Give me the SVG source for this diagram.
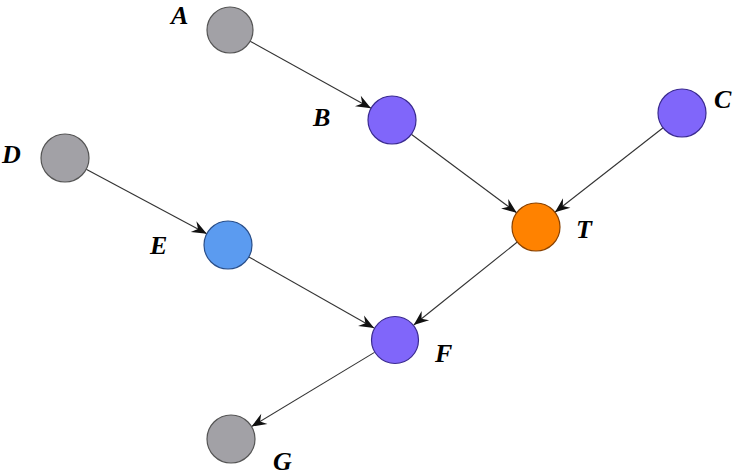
<svg xmlns="http://www.w3.org/2000/svg" width="740" height="476" viewBox="0 0 740 476">
<style>
.n{stroke-width:1.2}
.g{fill:#a2a1a6;stroke:#555}
.p{fill:#8066fa;stroke:#3a2a90}
.b{fill:#5b9bf0;stroke:#2a4f8a}
.o{fill:#ff8200;stroke:#8a4200}
.e{stroke:#333;stroke-width:1.1;fill:none;marker-end:url(#ah)}
.l{font-family:"Liberation Serif","Times New Roman",serif;font-weight:bold;font-style:italic;font-size:26px;fill:#000}
</style>
<defs>
<marker id="ah" markerUnits="userSpaceOnUse" markerWidth="20" markerHeight="16" viewBox="-16 -8 17 16" refX="0" refY="0" orient="auto">
<path d="M0,0 L-15,-6 L-10,0 L-15,6 Z" fill="#111"/>
</marker>
</defs>
<rect width="740" height="476" fill="#fff"/>
<g id="edges">
<line class="e" x1="250.1" y1="41.2" x2="371" y2="108.3"/>
<line class="e" x1="411.3" y1="134.3" x2="516.7" y2="212.7"/>
<line class="e" x1="663.1" y1="127.8" x2="554.9" y2="212.2"/>
<line class="e" x1="86.2" y1="169.3" x2="206.8" y2="233.7"/>
<line class="e" x1="248.9" y1="256.9" x2="374.1" y2="328.1"/>
<line class="e" x1="517.3" y1="242" x2="413.7" y2="325"/>
<line class="e" x1="374.5" y1="352.4" x2="251.5" y2="426.6"/>
</g>
<g id="A"><circle class="n g" cx="230" cy="30" r="23"/><text class="l" x="171" y="24">A</text></g>
<g id="B"><circle class="n p" cx="392" cy="120" r="24"/><text class="l" x="313" y="126">B</text></g>
<g id="C"><circle class="n p" cx="682" cy="113" r="24"/><text class="l" x="714" y="108">C</text></g>
<g id="D"><circle class="n g" cx="65" cy="158" r="24"/><text class="l" x="2" y="163">D</text></g>
<g id="E"><circle class="n b" cx="228" cy="245" r="24"/><text class="l" x="150" y="254">E</text></g>
<g id="T"><circle class="n o" cx="536" cy="227" r="24"/><text class="l" x="576" y="238">T</text></g>
<g id="F"><circle class="n p" cx="395" cy="340" r="23.5"/><text class="l" x="435" y="362">F</text></g>
<g id="G"><circle class="n g" cx="231" cy="439" r="24"/><text class="l" x="273" y="470">G</text></g>
</svg>
